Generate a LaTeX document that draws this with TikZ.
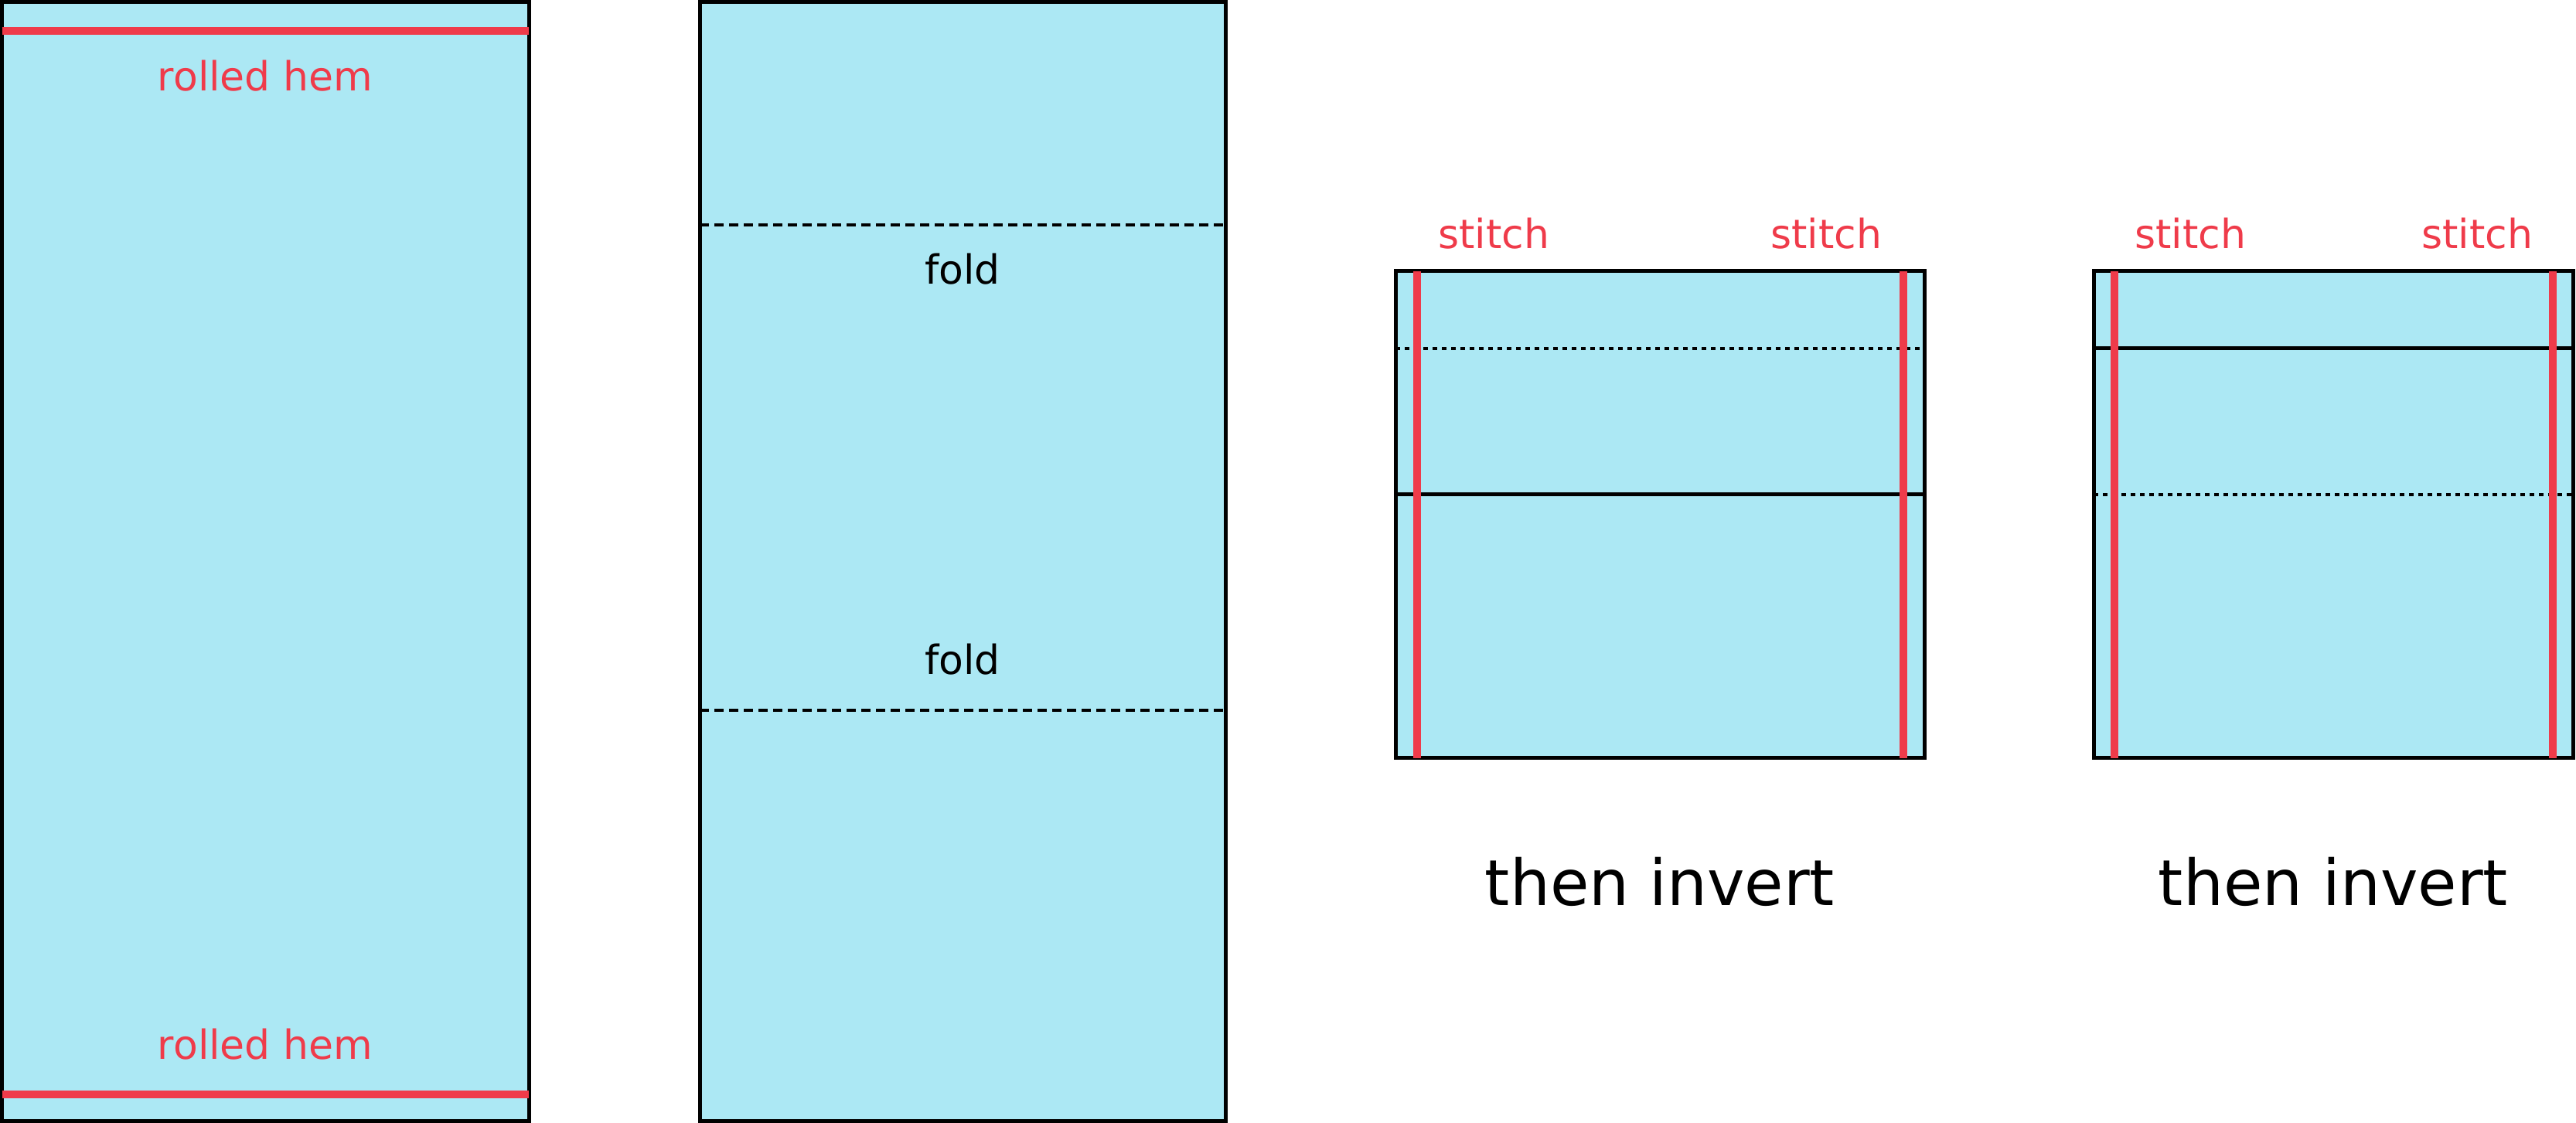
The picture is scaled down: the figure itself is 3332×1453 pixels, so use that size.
\documentclass[tikz,border=0pt]{standalone}
\usepackage{fontspec}
\setmainfont{DejaVu Sans}
\usepackage{tikz}
\definecolor{cloth}{RGB}{172,232,244}
\definecolor{hem}{RGB}{239,59,74}

\begin{document}
\begin{tikzpicture}[x=0.25pt, y=-0.25pt]
	\tikzset{panel/.style = {draw, fill=cloth, line width=1.25pt}}
	\tikzset{seam/.style = {draw=hem, line width=2.6pt}}
	\tikzset{crease/.style = {line width=1.2pt, dash pattern=on 3pt off 1.75pt}}
	\tikzset{pressline/.style = {line width=1.2pt, dash pattern=on 1.5pt off 1.5pt}}
	\tikzset{flatline/.style = {line width=1.25pt}}
	\tikzset{note/.style = {text=hem, font=\fontsize{13}{15}\selectfont, anchor=base, inner sep=0pt}}
	\tikzset{foldnote/.style = {note, text=black}}
	\tikzset{caption/.style = {font=\fontsize{20.5}{24}\selectfont, anchor=base, inner sep=0pt}}
	\useasboundingbox (0, 0) rectangle (3332, 1453);
	% strip with rolled hems
	\draw[panel] (2.5, 2.5) rectangle (684, 1450);
	\draw[seam] (2.5, 40) -- (684, 40);
	\draw[seam] (2.5, 1416) -- (684, 1416);
	\node[note] (hemtop) at (343, 118) {rolled hem};
	\node[note] (hembot) at (343, 1370) {rolled hem};
	% strip with fold lines
	\draw[panel] (905, 2.5) rectangle (1585, 1450);
	\draw[crease] (905, 291) -- (1585, 291);
	\draw[crease] (905, 919) -- (1585, 919);
	\node[foldnote] (foldtop) at (1245, 368) {fold};
	\node[foldnote] (foldbot) at (1245, 873) {fold};
	% folded, stitched sides
	\draw[panel] (1805, 351) rectangle (2489, 981);
	\draw[pressline] (1805, 451) -- (2489, 451);
	\draw[flatline] (1805, 640) -- (2489, 640);
	\draw[seam] (1833, 351) -- (1833, 981);
	\draw[seam] (2462, 351) -- (2462, 981);
	\node[note] (stitchaa) at (1932, 322) {stitch};
	\node[note] (stitchab) at (2362, 322) {stitch};
	\node[caption] (inverta) at (2147, 1172) {then invert};
	% folded the other way
	\draw[panel] (2708, 351) rectangle (3328, 981);
	\draw[flatline] (2708, 451) -- (3328, 451);
	\draw[pressline] (2708, 640) -- (3328, 640);
	\draw[seam] (2735, 351) -- (2735, 981);
	\draw[seam] (3302, 351) -- (3302, 981);
	\node[note] (stitchba) at (2833, 322) {stitch};
	\node[note] (stitchbb) at (3204, 322) {stitch};
	\node[caption] (invertb) at (3018, 1172) {then invert};
\end{tikzpicture}
\end{document}
